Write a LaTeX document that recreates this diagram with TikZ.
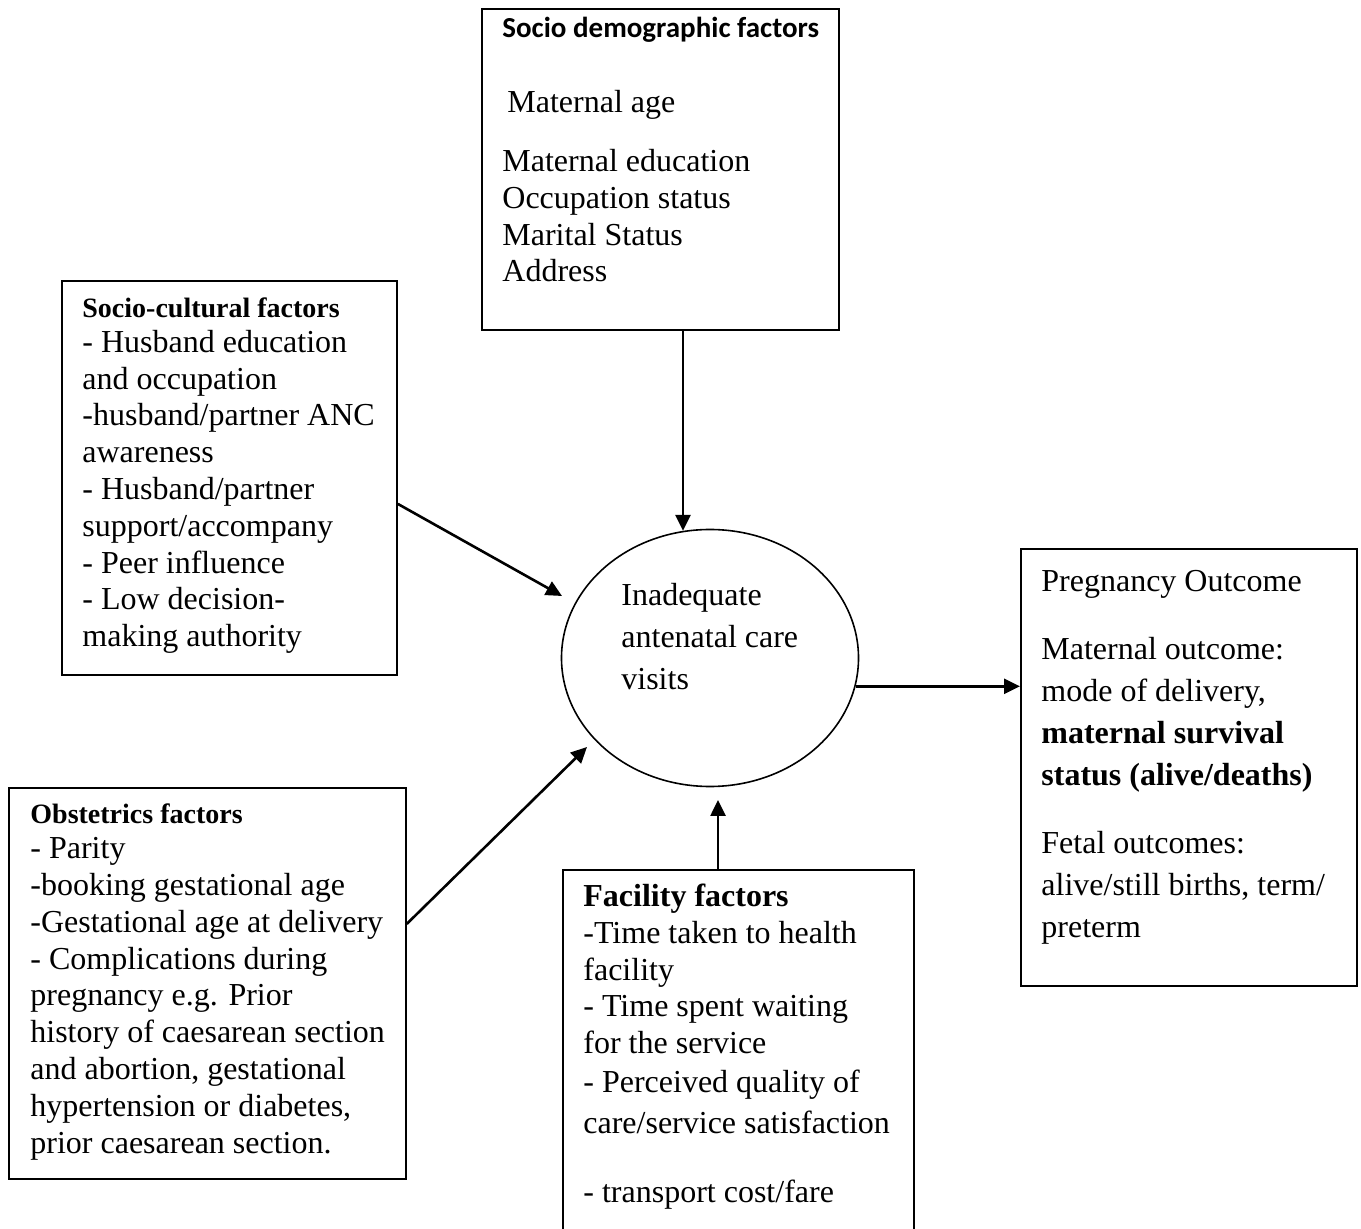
\documentclass[tikz,border=0pt]{standalone}
\usepackage{fontspec}
\setmainfont{Liberation Serif}
\newfontfamily\calibri{Carlito}
\usetikzlibrary{shapes.geometric, arrows.meta, positioning, calc}

\newcommand{\bodyfont}{\fontsize{16}{18.4}\selectfont}
\newcommand{\headfont}{\fontsize{14}{16}\selectfont\bfseries}

\begin{document}
\begin{tikzpicture}[x=0.5pt, y=-0.5pt,
  factorbox/.style={draw, line width=0.9pt, inner sep=0pt, anchor=north west},
  boxtext/.style={anchor=base west, align=left, inner sep=0pt, font=\bodyfont},
  arr/.style={-{Triangle[length=8pt,width=7.5pt]}, line width=1.3pt}]
\useasboundingbox (0,0) rectangle (1361,1229);
% Boxes
\node[factorbox, minimum width=178.5pt, minimum height=160.5pt] (demo) at (481,8) {};
\node[factorbox, minimum width=167.5pt, minimum height=197pt] (cult) at (61,280) {};
\node[factorbox, minimum width=198.5pt, minimum height=195.5pt] (obst) at (8,787) {};
\node[factorbox, minimum width=168pt, minimum height=218.5pt] (preg) at (1020,548) {};
\node[factorbox, minimum width=175.5pt, minimum height=200pt] (fac) at (562,869) {};
\node[draw, ellipse, line width=0.8pt, inner sep=0pt,
  minimum width=148.5pt, minimum height=128.5pt] (ell) at (710,658) {};
% Texts (placed by the baseline of their last line)
\node[boxtext] (demotext) at (502,282) {{\calibri\bfseries\fontsize{14.5}{16}\selectfont Socio demographic factors}\\[19.1pt]
  \hspace{2.5pt}Maternal age\\[11.1pt]
  Maternal education\\ Occupation status\\ Marital Status\\ Address};
\node[boxtext] (culttext) at (82,646.7) {{\headfont Socio-cultural factors}\\[-0.9pt]
  - Husband education\\ and occupation\\ -husband/partner ANC\\ awareness\\
  - Husband/partner\\ support/accompany\\ - Peer influence\\ - Low decision-\\
  making authority};
\node[boxtext] (obsttext) at (30,1153) {{\headfont Obstetrics factors}\\[-0.9pt]
  - Parity\\ -booking gestational age\\ -Gestational age at delivery\\
  - Complications during\\ pregnancy e.g. Prior\\ history of caesarean section\\
  and abortion, gestational\\ hypertension or diabetes,\\ prior caesarean section.};
\node[boxtext, font=\fontsize{16}{21.25}\selectfont] (elltext) at (621,690) {Inadequate\\ antenatal care\\ visits};
\node[boxtext, font=\fontsize{16}{21}\selectfont] (pregtext) at (1041,937) {Pregnancy Outcome\\[13pt]
  Maternal outcome:\\ mode of delivery,\\ \textbf{maternal survival}\\ \textbf{status (alive/deaths)}\\[13pt]
  Fetal outcomes:\\ alive/still births, term/\\ preterm};
\node[boxtext] (factext) at (583,1202) {{\bfseries Facility factors}\\
  -Time taken to health\\ facility\\ - Time spent waiting\\ for the service\\[1pt]
  - Perceived quality of\\[2pt] care/service satisfaction\\[16pt]
  - transport cost/fare};
% Arrows
\coordinate (cultTip) at (562,596);
\coordinate (obstTip) at (587,747);
\coordinate (facTip) at (718,800);
\draw[arr] (demo.south -| ell.102) -- (ell.102);
\draw[arr] ([yshift=-13pt]cult.east) -- (cultTip);
\draw[arr] ([yshift=29.75pt]obst.east) -- (obstTip);
\draw[arr] (fac.north -| facTip) -- (facTip);
\draw[arr] (ell.-11.6) -- (ell.-11.6 -| preg.west);
\end{tikzpicture}
\end{document}
